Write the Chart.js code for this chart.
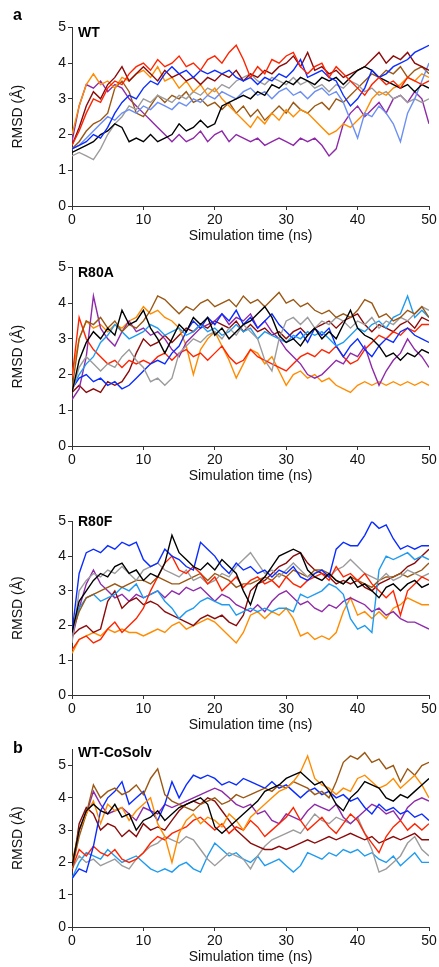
<!DOCTYPE html>
<html>
<head>
<meta charset="utf-8">
<script src="https://cdn.jsdelivr.net/npm/chart.js@4.4.1/dist/chart.umd.min.js"></script>
<style>
  body { margin: 0; background: #fff; width: 439px; height: 967px; position: relative; overflow: hidden;
         font-family: "Liberation Sans", Arial, sans-serif; }
  .box { position: absolute; left: 0; width: 439px; }
  .lab { position: absolute; font-weight: bold; color: #000; white-space: nowrap; }
</style>
</head>
<body>
<div class="box" style="top:17px;height:229px"><canvas id="wtChart" width="439" height="229"></canvas></div>
<div class="box" style="top:257px;height:229px"><canvas id="r80aChart" width="439" height="229"></canvas></div>
<div class="box" style="top:511px;height:224px"><canvas id="r80fChart" width="439" height="224"></canvas></div>
<div class="box" style="top:739px;height:228px"><canvas id="cosolvChart" width="439" height="228"></canvas></div>

<div class="lab" style="left:13px;top:6px;font-size:16px;line-height:18px">a</div>
<div class="lab" style="left:13px;top:739px;font-size:16px;line-height:18px">b</div>
<div class="lab" style="left:78px;top:24px;font-size:14px;line-height:16px">WT</div>
<div class="lab" style="left:78px;top:264px;font-size:14px;line-height:16px">R80A</div>
<div class="lab" style="left:78px;top:513px;font-size:14px;line-height:16px">R80F</div>
<div class="lab" style="left:78px;top:744px;font-size:14px;line-height:16px">WT-CoSolv</div>

<script>
// シミュレーション時間 (ns)
const time = [0,1,2,3,4,5,6,7,8,9,10,11,12,13,14,15,16,17,18,19,20,21,22,23,24,25,26,27,28,29,30,
              31,32,33,34,35,36,37,38,39,40,41,42,43,44,45,46,47,48,49,50];
const yTicks = [0, 1, 2, 3, 4, 5];
const xTicks = [0, 10, 20, 30, 40, 50];

// WT
const wtRed = [1.7,2.1,2.6,3.0,2.9,3.3,3.5,3.4,3.7,3.9, 4.0,3.8,4.1,3.9,4.0,4.2,3.9,4.0,3.8,4.1,
  4.2,4.0,4.3,4.5,4.1,3.6,3.9,3.7,4.1,4.0, 4.2,4.3,3.9,3.7,3.9,4.0,3.6,3.9,3.7,3.5,
  3.3,3.1,3.4,3.6,3.4,3.5,3.3,3.6,3.5,3.4, 3.5];
const wtBlue = [1.6,1.7,1.8,2.0,1.9,2.2,2.6,2.9,3.1,3.0, 3.3,3.5,3.4,3.7,3.9,3.7,3.8,3.6,3.8,3.7,
  3.8,3.7,3.8,3.6,3.5,3.6,3.4,3.6,3.5,3.7, 3.6,3.8,4.1,3.6,3.7,3.8,3.6,3.5,3.1,2.8,
  3.0,3.3,3.8,3.6,3.7,3.9,4.0,4.1,4.3,4.4, 4.5];
const wtBlack = [1.5,1.6,1.7,1.8,2.0,2.1,2.3,2.2,1.8,1.9, 1.8,2.0,1.8,1.9,2.0,2.3,2.1,2.2,2.4,2.2,
  2.3,2.8,2.9,3.0,3.1,3.0,3.2,3.1,3.4,3.3, 3.5,3.4,3.6,3.5,3.4,3.6,3.5,3.6,3.4,3.6,
  3.8,3.9,3.8,3.6,3.5,3.4,3.3,3.4,3.2,3.4, 3.3];
const wtMaroon = [1.7,2.2,2.8,3.2,3.0,3.4,3.6,3.9,3.5,3.7, 3.9,3.7,3.5,3.8,3.6,3.7,3.5,3.6,3.4,3.6,
  3.5,3.7,3.6,3.8,3.5,3.7,3.6,3.8,3.7,3.9, 4.0,4.2,3.9,4.3,3.8,3.9,3.7,3.8,3.6,3.7,
  3.8,3.9,4.1,4.3,4.0,4.2,4.1,4.3,4.0,3.9, 3.8];
const wtLightBlue = [1.6,1.7,1.9,2.1,2.3,2.5,2.4,2.6,2.7,2.6, 2.8,2.7,2.9,2.8,2.7,2.9,2.8,3.0,2.9,3.1,
  3.0,3.2,3.1,3.0,3.2,3.3,3.1,3.2,3.0,3.2, 3.3,3.1,3.2,3.0,3.2,3.3,3.1,3.2,2.9,2.4,
  1.9,2.6,2.5,2.8,2.6,2.3,1.8,2.6,3.0,3.5, 4.0];
const wtOrange = [2.0,2.8,3.4,3.7,3.4,3.5,3.3,3.6,3.5,3.7, 3.8,3.6,3.9,3.5,3.6,3.3,3.5,3.2,3.4,3.1,
  3.3,3.0,2.8,2.6,2.4,2.2,2.5,2.3,2.6,2.4, 2.7,2.5,2.7,2.6,2.4,2.2,2.0,2.1,2.3,2.2,
  2.4,2.6,3.0,3.2,3.1,3.3,3.4,3.6,3.5,3.7, 3.6];
const wtGray = [1.4,1.5,1.4,1.3,1.6,2.0,2.3,2.5,2.8,2.7, 3.0,2.9,3.1,3.0,2.9,3.1,3.0,3.2,3.1,3.3,
  3.2,3.4,3.3,3.5,3.6,3.7,3.5,3.4,3.6,3.5, 3.4,3.6,3.4,3.5,3.3,3.4,3.2,3.4,3.3,3.5,
  3.4,3.2,3.3,3.1,3.2,3.0,3.1,2.9,3.0,2.9, 3.0];
const wtBrown = [1.6,1.8,2.1,2.3,2.4,2.6,3.3,3.5,3.2,2.6, 2.5,2.8,3.1,2.9,3.1,3.0,3.2,2.9,3.0,2.8,
  2.9,2.7,2.9,2.6,2.8,2.5,2.7,2.4,2.6,2.8, 2.6,2.9,2.7,2.6,2.8,2.9,2.7,3.0,2.9,3.1,
  3.3,3.5,3.7,3.6,3.8,3.7,3.9,3.6,3.8,3.9, 3.7];
const wtPurple = [1.8,2.8,3.4,3.3,3.5,3.2,3.4,3.3,3.0,2.8, 2.6,2.4,2.2,2.0,1.8,2.0,1.8,1.9,2.1,1.8,
  2.0,2.1,1.8,2.0,1.9,1.8,1.9,1.7,1.8,1.9, 1.8,1.7,1.9,1.8,1.9,1.7,1.4,1.6,2.3,2.6,
  2.8,2.5,2.7,2.9,2.6,3.0,3.1,2.9,3.2,3.0, 2.3];

// R80A
const r80aBlack = [1.5,2.4,2.9,3.2,3.0,3.3,3.1,3.8,3.4,3.5, 3.8,3.3,3.0,2.6,3.0,3.4,3.2,3.6,3.4,3.6,
  3.1,3.3,3.0,3.2,3.4,3.5,3.7,3.9,3.6,3.1, 2.9,3.0,2.8,3.1,3.3,3.0,3.2,3.0,3.4,3.8,
  3.3,3.1,3.0,2.8,2.5,2.6,2.4,2.6,2.5,2.7, 2.6];
const r80aBrown = [1.6,3.0,3.5,3.4,3.6,3.3,3.5,3.2,3.4,3.3, 3.5,3.8,4.2,4.1,3.9,3.7,3.9,3.8,4.0,4.1,
  3.9,4.0,4.1,3.9,4.2,4.0,4.1,3.9,4.1,4.3, 4.0,4.1,3.9,4.0,3.8,3.7,3.8,3.6,3.7,3.6,
  3.8,4.1,4.0,3.6,3.7,3.5,3.6,3.8,3.7,3.9, 3.6];
const r80aGray = [1.5,2.2,2.5,2.3,2.1,2.3,2.2,2.5,2.7,2.4, 2.2,1.8,1.9,1.7,1.9,2.6,2.8,3.0,2.9,3.1,
  3.2,3.0,3.3,3.1,3.4,3.2,3.0,2.4,2.1,3.0, 3.5,3.6,3.4,3.6,3.3,3.5,3.4,3.6,3.5,3.3,
  3.5,3.4,3.6,3.3,3.5,3.4,3.6,3.5,3.7,3.9, 3.8];
const r80aSkyBlue = [1.6,2.0,2.3,2.5,2.9,3.1,3.4,3.2,3.0,3.1, 3.2,3.4,3.3,3.1,3.2,3.3,3.1,3.2,3.4,3.2,
  3.3,3.1,3.2,3.4,3.2,3.3,3.0,3.2,3.1,3.0, 2.9,3.1,3.0,3.2,3.1,3.2,3.0,2.8,2.9,3.1,
  3.3,3.2,3.4,3.5,3.3,3.6,3.7,4.2,3.6,3.8, 3.6];
const r80aBlue = [1.6,1.9,2.0,1.8,1.9,1.7,1.8,1.6,1.7,1.9, 2.1,2.3,2.4,2.3,2.6,2.8,3.2,3.5,3.3,3.6,
  3.4,3.7,3.5,3.8,3.4,3.6,3.3,3.5,3.7,3.4, 3.2,3.0,3.2,2.9,3.3,3.1,3.3,2.8,2.5,2.8,
  3.0,2.7,2.5,2.8,3.0,2.9,3.2,3.3,3.1,3.0, 2.9];
const r80aPurple = [1.3,1.6,2.5,4.2,3.3,3.0,2.8,3.2,3.5,3.2, 3.3,3.1,3.2,3.0,2.7,2.5,2.9,3.1,3.3,3.4,
  3.5,3.7,3.4,3.6,3.5,3.7,3.3,3.5,3.2,3.0, 2.7,2.5,2.3,2.0,1.9,2.0,2.2,2.4,2.3,2.6,
  2.5,2.8,2.2,1.7,2.1,2.4,2.6,3.0,2.7,2.5, 2.2];
const r80aRed = [1.9,3.6,3.0,2.7,2.5,2.3,2.4,2.2,2.4,2.3, 2.4,2.3,2.5,2.6,2.4,2.6,2.7,2.5,2.6,2.4,
  2.6,2.8,2.5,2.3,2.4,2.7,2.5,2.4,2.3,2.2, 2.1,2.3,2.5,2.6,2.5,2.7,2.6,2.8,2.5,2.3,
  2.4,2.7,2.9,3.1,3.0,3.2,3.1,3.3,3.2,3.4, 3.4];
const r80aOrange = [2.0,3.0,3.5,3.3,3.4,3.2,3.4,3.3,3.5,3.6, 3.9,3.7,3.8,3.6,3.5,3.3,2.8,2.0,2.7,3.0,
  3.2,2.8,2.4,1.9,2.3,2.7,2.6,2.3,2.5,2.1, 1.7,2.0,2.1,1.9,2.0,1.8,1.9,1.7,1.6,1.5,
  1.7,1.8,1.7,1.8,1.7,1.8,1.7,1.8,1.7,1.8, 1.7];
const r80aMaroon = [1.5,1.7,1.5,1.6,1.5,1.8,1.7,1.8,2.1,2.6, 3.0,2.8,2.9,3.1,2.9,3.1,3.3,3.2,3.4,3.3,
  3.5,3.4,3.3,3.5,3.2,3.4,3.2,3.3,3.1,3.2, 3.0,3.2,3.3,3.1,3.3,3.4,3.5,3.3,3.5,3.6,
  3.7,3.4,3.2,3.4,3.3,3.2,3.4,3.5,3.3,3.6, 3.5];

// R80F
const r80fBlack = [1.8,2.7,3.0,3.3,3.5,3.4,3.7,3.8,3.5,3.6, 3.3,3.5,3.4,3.8,4.6,4.1,3.9,3.7,3.6,3.8,
  3.6,3.9,3.7,3.5,3.0,2.6,3.2,3.4,3.7,4.0, 4.1,4.2,4.1,3.6,3.4,3.3,3.5,3.3,3.2,3.4,
  3.1,3.2,3.0,2.8,3.1,3.2,3.0,3.2,3.3,3.1, 3.2];
const r80fBlue = [1.8,3.5,4.1,4.2,4.1,4.3,4.2,4.4,4.3,4.4, 3.9,3.7,3.8,4.2,4.0,3.9,3.7,3.6,4.4,4.2,
  4.0,3.7,3.5,3.8,3.6,3.7,3.5,3.6,3.4,3.6, 3.5,3.7,3.4,3.3,3.5,3.6,3.4,4.2,4.4,4.3,
  4.3,4.6,5.0,4.8,4.9,4.5,4.2,4.3,4.2,4.3, 4.3];
const r80fRed = [1.3,1.6,1.7,1.5,1.6,1.9,2.1,1.8,2.0,2.2, 2.5,3.0,3.4,3.8,4.0,3.6,3.5,3.7,3.5,3.2,
  3.4,3.0,3.2,3.4,3.1,3.3,3.4,3.2,3.3,3.1, 3.4,3.2,3.1,3.3,3.4,3.5,3.3,3.7,3.4,3.5,
  3.3,3.5,3.2,3.0,2.8,3.0,2.3,3.0,3.2,3.4, 3.3];
const r80fGray = [1.5,3.0,3.3,3.5,3.4,3.6,3.5,3.7,3.5,3.3, 3.6,3.7,3.8,3.6,3.5,3.4,3.6,3.3,3.4,3.2,
  3.3,3.5,3.4,3.7,3.9,4.1,3.8,3.5,3.6,3.4, 3.6,3.8,3.6,3.4,3.5,3.6,3.4,3.6,3.7,3.9,
  3.7,3.5,3.4,3.3,3.5,3.3,3.4,3.6,3.5,3.4, 3.5];
const r80fBrown = [1.8,2.4,2.8,2.9,3.0,3.1,3.2,3.1,3.2,3.3, 3.3,3.2,3.4,3.3,3.2,3.2,3.3,3.4,3.5,3.3,
  3.5,3.4,3.3,3.1,3.2,3.2,3.3,3.4,3.3,3.5, 3.4,3.6,3.5,3.4,3.6,3.6,3.5,3.3,3.2,3.4,
  3.3,3.2,3.1,3.3,3.4,3.4,3.5,3.4,3.5,3.6, 3.8];
const r80fSkyBlue = [1.8,2.5,2.8,2.9,2.7,2.8,2.9,3.1,3.0,3.2, 2.8,2.9,3.0,2.7,2.5,2.2,2.4,2.5,2.7,2.8,
  2.7,2.6,2.6,2.3,2.4,2.5,2.4,2.5,2.4,2.5, 2.5,2.4,2.9,2.8,2.9,3.0,3.2,3.1,2.9,2.2,
  1.9,2.0,1.8,3.6,4.0,3.9,4.0,4.1,3.9,4.0, 3.9];
const r80fMaroon = [1.7,1.9,2.0,1.8,1.9,2.7,3.0,2.5,2.7,2.8, 2.6,2.7,2.6,2.4,2.3,2.2,2.1,2.0,2.2,2.3,
  2.2,2.3,2.1,2.0,2.3,3.0,3.2,3.3,3.5,3.7, 3.8,4.0,4.1,3.8,3.6,3.5,3.4,3.2,3.3,3.2,
  3.3,3.1,3.0,3.2,3.3,3.4,3.5,3.7,3.8,4.0, 4.2];
const r80fPurple = [1.6,2.5,3.2,3.6,3.2,3.0,2.8,2.9,2.7,2.9, 2.8,2.9,3.0,2.8,3.0,2.9,3.1,3.0,3.1,2.9,
  2.7,2.9,2.8,2.6,2.5,2.4,2.6,2.4,2.7,2.9, 3.0,2.8,2.6,2.7,2.5,2.4,2.6,2.5,2.7,2.8,
  2.7,2.6,2.4,2.5,2.3,2.4,2.2,2.1,2.1,2.0, 1.9];
const r80fOrange = [1.2,1.6,1.7,1.8,1.7,1.9,1.8,1.9,1.8,1.8, 1.7,1.8,1.9,1.8,2.0,2.1,1.9,2.0,2.1,2.2,
  2.1,1.9,1.7,1.5,1.8,2.3,2.4,2.2,2.4,2.3, 2.5,2.2,1.7,1.8,1.6,1.7,1.6,1.8,2.4,2.8,
  2.3,2.4,2.2,2.4,2.2,2.5,2.6,2.8,2.7,2.6, 2.6];

// WT-CoSolv
const csBlack = [1.9,3.0,3.6,3.8,3.6,3.5,3.8,3.4,3.5,3.0, 3.3,3.4,3.6,3.3,3.5,3.7,3.8,3.9,4.0,3.8,
  3.1,2.9,3.1,3.3,3.5,3.7,3.9,4.2,4.3,4.4, 4.6,4.7,4.8,4.6,4.4,4.5,4.2,3.8,3.6,4.0,
  4.2,4.5,4.4,4.3,4.0,3.9,4.1,4.0,4.2,4.4, 4.6];
const csOrange = [2.0,3.0,3.5,3.9,3.2,3.8,3.6,3.7,3.3,3.6, 3.8,4.0,3.2,2.8,2.0,2.9,3.3,3.5,3.2,3.4,
  3.3,3.1,3.5,3.3,3.0,3.4,3.6,3.8,4.0,4.2, 4.3,4.5,4.8,5.3,4.6,4.4,4.3,4.1,4.3,4.2,
  4.6,4.7,4.5,4.3,4.4,4.6,4.3,4.5,4.7,4.4, 4.0];
const csBrown = [1.8,2.8,3.5,4.4,4.0,4.2,4.3,4.1,4.2,4.4, 4.1,4.6,4.9,4.1,3.9,3.8,3.7,3.6,3.8,3.9,
  4.0,3.8,3.9,4.1,4.0,4.1,4.2,4.3,4.2,4.4, 4.3,4.5,4.4,4.3,4.1,4.2,4.0,4.5,5.1,5.3,
  5.2,5.4,5.1,5.2,4.9,5.0,4.5,4.9,4.7,5.0, 5.1];
const csBlue = [1.5,1.8,1.7,2.5,3.6,4.0,4.2,4.5,3.8,4.0, 4.2,3.6,3.3,3.8,4.5,4.0,4.4,4.7,4.6,4.7,
  4.6,4.4,4.5,4.4,4.6,4.5,4.4,4.3,4.5,4.3, 4.4,4.2,4.0,4.2,4.3,4.1,4.2,4.0,4.1,3.9,
  4.0,3.7,3.5,3.8,3.6,3.7,3.5,3.6,3.4,3.5, 3.3];
const csRed = [1.8,2.4,2.2,2.5,2.3,2.2,2.4,2.1,2.0,2.1, 2.3,2.6,2.8,2.7,2.9,3.0,3.1,3.3,3.4,3.2,
  3.0,3.2,2.9,3.1,3.0,3.3,3.1,2.8,3.0,3.2, 3.4,3.7,3.3,3.0,3.2,3.4,3.1,2.9,3.2,3.5,
  3.3,2.9,2.6,2.3,2.8,3.1,3.3,3.0,3.2,3.0, 3.2];
const csPurple = [1.8,3.0,3.5,4.2,3.8,3.5,3.6,3.7,3.5,3.3, 3.7,3.6,3.5,3.8,3.7,3.8,3.9,4.0,4.1,4.2,
  4.3,4.2,4.0,3.8,3.7,3.8,3.5,3.6,3.3,3.2, 3.5,3.4,3.3,3.6,3.8,3.7,3.6,3.8,3.4,3.2,
  3.4,3.6,3.8,3.7,3.5,3.6,3.3,3.7,3.9,4.0, 3.9];
const csMaroon = [1.7,3.2,3.7,3.5,3.0,3.2,3.1,2.8,3.0,2.8, 3.2,3.0,3.1,3.0,3.3,3.6,3.8,3.9,3.8,4.0,
  3.9,3.6,3.3,3.0,2.8,2.6,2.5,2.4,2.4,2.5, 2.4,2.5,2.6,2.7,2.6,2.7,2.8,2.7,2.8,2.9,
  2.8,2.7,2.8,2.6,2.7,2.8,2.7,2.8,2.9,2.7, 2.7];
const csGray = [1.8,2.2,2.0,2.1,1.9,2.0,2.1,1.9,1.8,2.1, 2.3,2.5,2.6,2.8,2.7,2.6,2.8,2.7,2.4,2.1,
  1.9,2.1,2.3,2.2,2.1,1.8,2.2,2.5,2.7,2.8, 2.9,3.0,2.9,3.2,3.5,3.3,3.2,3.4,3.3,3.2,
  3.4,2.9,2.4,1.7,1.8,2.0,2.2,2.6,2.8,2.4, 2.2];
const csSkyBlue = [1.5,2.0,2.3,2.2,2.1,2.4,2.2,2.0,2.1,2.2, 2.0,1.8,1.7,1.8,1.7,1.9,2.0,1.8,1.7,2.2,
  2.6,2.4,2.2,2.3,2.1,2.0,2.2,1.9,2.0,2.1, 1.9,1.7,1.9,2.3,2.2,2.1,2.3,2.2,2.4,2.3,
  2.4,2.2,2.3,2.1,2.0,2.2,1.9,2.1,2.3,2.0, 2.0];

// 色
const RED = '#ff2400', BLUE = '#0a2cff', BLACK = '#000000', MAROON = '#8b0a0a', ORANGE = '#ff8c00',
      PURPLE = '#8e2aa8', BROWN = '#9a5814', GRAY = '#9c9c9c', LIGHTBLUE = '#6c8ff2', SKYBLUE = '#1f9bf0';

const FONT = { family: '"Liberation Sans", Arial, sans-serif', size: 14 };

// 1パネル分のグラフ (先頭のデータセットが一番上に描かれる)
function drawPanel(id, yMax, series) {
  const ctx = document.getElementById(id).getContext('2d');
  return new Chart(ctx, {
    type: 'line',
    data: {
      datasets: series.map(([values, color]) => ({
        data: values.map((v, i) => ({ x: time[i], y: v })),
        borderColor: color,
        borderWidth: 1.4,
        pointRadius: 0,
        fill: false,
        tension: 0
      }))
    },
    options: {
      responsive: false,
      animation: false,
      layout: { padding: { top: 10, right: 10, bottom: 0, left: 0 } },
      plugins: { legend: { display: false }, tooltip: { enabled: false } },
      scales: {
        x: {
          type: 'linear',
          min: 0,
          max: 50,
          afterBuildTicks: s => { s.ticks = xTicks.map(v => ({ value: v })); },
          afterFit: s => { s.height = 40; },
          grid: { drawOnChartArea: false, drawTicks: true, tickLength: 4, color: '#333' },
          border: { color: '#333', width: 1 },
          ticks: { color: '#111', font: FONT, padding: 2, maxRotation: 0 },
          title: { display: true, text: 'Simulation time (ns)', color: '#111', font: FONT,
                   padding: { top: 0, bottom: 1 } }
        },
        y: {
          min: 0,
          max: yMax,
          afterBuildTicks: s => { s.ticks = yTicks.map(v => ({ value: v })); },
          afterFit: s => { s.width = 72; },
          grid: { drawOnChartArea: false, drawTicks: true, tickLength: 4, color: '#333' },
          border: { color: '#333', width: 1 },
          ticks: { color: '#111', font: FONT, padding: 2 },
          title: { display: true, text: 'RMSD (Å)', color: '#111', font: FONT,
                   padding: { top: 10, bottom: 0 } }
        }
      }
    }
  });
}

drawPanel('wtChart', 5, [
  [wtRed, RED], [wtBlue, BLUE], [wtBlack, BLACK], [wtMaroon, MAROON], [wtLightBlue, LIGHTBLUE],
  [wtOrange, ORANGE], [wtGray, GRAY], [wtBrown, BROWN], [wtPurple, PURPLE]
]);
drawPanel('r80aChart', 5, [
  [r80aBlack, BLACK], [r80aBrown, BROWN], [r80aGray, GRAY], [r80aSkyBlue, SKYBLUE], [r80aBlue, BLUE],
  [r80aPurple, PURPLE], [r80aRed, RED], [r80aOrange, ORANGE], [r80aMaroon, MAROON]
]);
drawPanel('r80fChart', 5, [
  [r80fBlack, BLACK], [r80fBlue, BLUE], [r80fRed, RED], [r80fGray, GRAY], [r80fBrown, BROWN],
  [r80fSkyBlue, SKYBLUE], [r80fMaroon, MAROON], [r80fPurple, PURPLE], [r80fOrange, ORANGE]
]);
drawPanel('cosolvChart', 5.5, [
  [csBlack, BLACK], [csOrange, ORANGE], [csBrown, BROWN], [csBlue, BLUE], [csRed, RED],
  [csPurple, PURPLE], [csMaroon, MAROON], [csGray, GRAY], [csSkyBlue, SKYBLUE]
]);
</script>
</body>
</html>
